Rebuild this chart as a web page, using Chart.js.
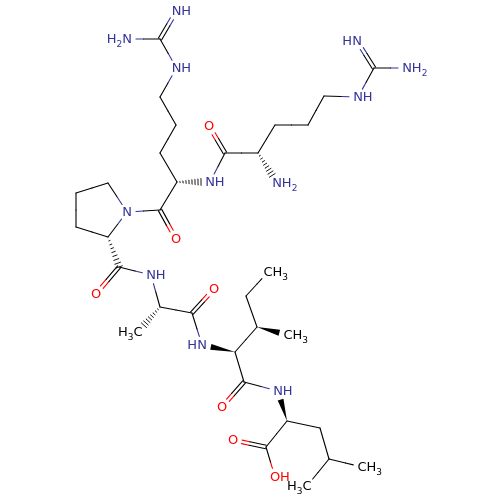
<!DOCTYPE html>
<html>
<head>
<meta charset="utf-8">
<style>
  html, body { margin: 0; padding: 0; background: #fff; }
  canvas { display: block; }
</style>
<script src="https://cdn.jsdelivr.net/npm/chart.js@4"></script>
</head>
<body>
<canvas id="myChart" width="500" height="500"></canvas>
<script>
const atomX = [127, 160, 176.5, 176.5, 160, 176, 160, 177, 160, 176, 127, 108, 76, 76, 108, 119, 96, 151, 160, 138, 192, 214, 202, 235, 257, 246, 268, 288, 244, 222, 278, 287, 266, 233, 275, 320, 329, 362, 307, 210, 225, 209, 258, 277, 275, 308, 324, 358, 374, 357, 407];
const atomY = [39, 39, 11, 68, 97, 125, 153, 182, 210, 239, 212, 183, 193, 227, 237, 267, 294, 275, 307, 332, 313, 289, 345, 352, 327, 296, 272, 335, 382, 407, 391, 421, 447, 440, 477, 428, 459, 467, 486, 182, 153, 126, 153, 183, 125, 125, 96, 97, 68, 41, 68];
const atomText = ["H2N", "", "NH", "NH", "", "", "", "", "", "O", "N", "", "", "", "", "", "O", "NH", "", "H3C", "", "O", "HN", "", "", "", "CH3", "CH3", "", "O", "NH", "", "", "O", "OH", "", "", "CH3", "H3C", "NH", "", "O", "", "NH2", "", "", "", "NH", "", "HN", "NH2"];

const singleBonds = [[0, 1], [1, 3], [3, 4], [4, 5], [5, 6], [6, 7], [7, 8], [8, 10], [10, 11], [11, 12], [12, 13], [13, 14], [14, 10], [15, 17], [17, 18], [18, 20], [20, 22], [23, 24], [24, 25], [25, 26], [23, 28], [28, 30], [31, 32], [32, 34], [31, 35], [35, 36], [36, 37], [36, 38], [39, 40], [40, 42], [42, 44], [44, 45], [45, 46], [46, 47], [47, 48], [48, 50]];
const doubleBonds = [[1, 2], [8, 9], [15, 16], [20, 21], [28, 29], [32, 33], [40, 41], [48, 49]];
const wedgeBonds = [[23, 22], [24, 27], [31, 30]];
const hashBonds = [[7, 39], [14, 15], [18, 19], [42, 43]];

const black = "#000000";
const blue = "#333399";
const red = "#ff0000";
const labelGap = 9;

function atomColor(i) {
  const t = atomText[i];
  if (t.includes("O")) return red;
  if (t.includes("N")) return blue;
  return black;
}

// start and end of a bond, pulled back from any label
function bondEnds(a, b) {
  const dx = atomX[b] - atomX[a];
  const dy = atomY[b] - atomY[a];
  const len = Math.hypot(dx, dy);
  const ux = dx / len;
  const uy = dy / len;
  const gapA = atomText[a] ? labelGap : 0;
  const gapB = atomText[b] ? labelGap : 0;
  return {
    x1: atomX[a] + ux * gapA,
    y1: atomY[a] + uy * gapA,
    x2: atomX[b] - ux * gapB,
    y2: atomY[b] - uy * gapB,
    midX: (atomX[a] + atomX[b]) / 2,
    midY: (atomY[a] + atomY[b]) / 2,
    nx: -uy,
    ny: ux,
  };
}

function segment(x1, y1, x2, y2, color, width) {
  return {
    data: [{ x: x1, y: y1 }, { x: x2, y: y2 }],
    showLine: true,
    borderColor: color,
    borderWidth: width || 1.1,
    pointRadius: 0,
    fill: false,
    borderCapStyle: "round",
  };
}

function halves(a, b, off) {
  const e = bondEnds(a, b);
  const ox = e.nx * off;
  const oy = e.ny * off;
  return [
    segment(e.x1 + ox, e.y1 + oy, e.midX + ox, e.midY + oy, atomColor(a)),
    segment(e.midX + ox, e.midY + oy, e.x2 + ox, e.y2 + oy, atomColor(b)),
  ];
}

function buildDatasets() {
  const sets = [];
  singleBonds.forEach((b) => sets.push(...halves(b[0], b[1], 0)));
  doubleBonds.forEach((b) => {
    sets.push(...halves(b[0], b[1], 1.8));
    sets.push(...halves(b[0], b[1], -1.8));
  });
  wedgeBonds.forEach((b) => {
    const e = bondEnds(b[0], b[1]);
    sets.push({
      data: [
        { x: atomX[b[0]], y: atomY[b[0]] },
        { x: e.x2 + e.nx * 3, y: e.y2 + e.ny * 3 },
        { x: e.x2 - e.nx * 3, y: e.y2 - e.ny * 3 },
        { x: atomX[b[0]], y: atomY[b[0]] },
      ],
      showLine: true,
      borderWidth: 0,
      borderColor: black,
      backgroundColor: black,
      pointRadius: 0,
      fill: "shape",
    });
  });
  hashBonds.forEach((b) => {
    const e = bondEnds(b[0], b[1]);
    const steps = 8;
    for (let i = 1; i <= steps; i++) {
      const t = i / steps;
      const px = e.x1 + (e.x2 - e.x1) * t;
      const py = e.y1 + (e.y2 - e.y1) * t;
      const w = 3.2 * t + 0.3;
      sets.push(segment(px + e.nx * w, py + e.ny * w, px - e.nx * w, py - e.ny * w, black, 0.9));
    }
  });
  return sets;
}

// ..........................atom labels...................
const atomLabels = {
  id: "atomLabels",
  afterDraw(chart) {
    const ctx = chart.ctx;
    const big = "13px 'DejaVu Sans'";
    const small = "9px 'DejaVu Sans'";
    ctx.save();
    ctx.textBaseline = "middle";
    ctx.textAlign = "left";
    atomText.forEach((text, i) => {
      if (!text) return;
      const parts = text.split("");
      const widths = parts.map((c) => {
        ctx.font = /\d/.test(c) ? small : big;
        return ctx.measureText(c).width;
      });
      // the letter of the heavy atom sits on the atom
      const anchor = text.startsWith("H") ? parts.length - 1 : 0;
      let before = 0;
      for (let k = 0; k < anchor; k++) before += widths[k];
      let x = chart.scales.x.getPixelForValue(atomX[i]) - before - widths[anchor] / 2;
      const y = chart.scales.y.getPixelForValue(atomY[i]) + 1;
      ctx.fillStyle = atomColor(i);
      parts.forEach((c, k) => {
        const sub = /\d/.test(c);
        ctx.font = sub ? small : big;
        ctx.fillText(c, x, sub ? y + 5 : y);
        x += widths[k];
      });
    });
    ctx.restore();
  },
};

new Chart(document.getElementById("myChart"), {
  type: "scatter",
  data: { datasets: buildDatasets() },
  options: {
    responsive: false,
    animation: false,
    layout: { padding: 0 },
    plugins: { legend: { display: false }, tooltip: { enabled: false } },
    scales: {
      x: { display: false, min: 0, max: 500 },
      y: { display: false, min: 0, max: 500, reverse: true },
    },
  },
  plugins: [atomLabels],
});
</script>
</body>
</html>
